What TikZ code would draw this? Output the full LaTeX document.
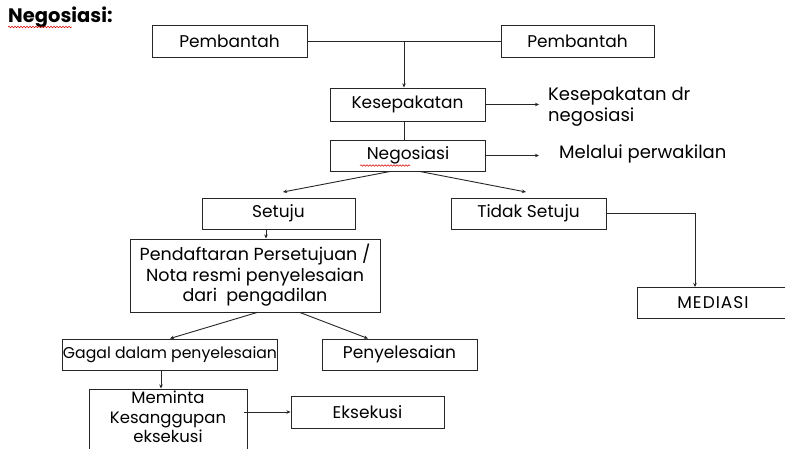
\documentclass[tikz,border=0pt]{standalone}
\usepackage{fontspec}
\setmainfont{Poppins}
\usetikzlibrary{arrows.meta,calc,decorations.pathmorphing}
\begin{document}
\begin{tikzpicture}[x=1pt,y=-1pt,
  box/.style={draw=black!85,line width=1pt,inner sep=0pt,align=center,font=\fontsize{17}{20.5}\selectfont},
  lbl/.style={inner sep=0pt,align=left,font=\fontsize{18}{20.5}\selectfont},
  arr/.style={-{Stealth[length=4pt,width=3.5pt]},line width=0.9pt,draw=black!85},
  ln/.style={line width=0.9pt,draw=black!85},
  wavy/.style={draw=red!85!black,line width=0.5pt,decorate,decoration={snake,amplitude=0.8pt,segment length=3pt}}
]
\useasboundingbox (0,0) rectangle (785,448);
\fill[white] (0,0) rectangle (785,448);

\node[anchor=west,inner sep=0pt,font=\bfseries\fontsize{19.5}{21}\selectfont] (title) at (8,17) {Negosiasi:};
\draw[wavy] (8,27) -- (72,27);

\node[box,minimum width=155pt,minimum height=32pt] (p1) at (229.5,41) {Pembantah};
\node[box,minimum width=153pt,minimum height=32pt] (p2) at (577.5,41) {Pembantah};
\node[box,minimum width=155pt,minimum height=33pt] (kes) at (407.5,104.5) {Kesepakatan};
\node[box,minimum width=155pt,minimum height=31pt] (neg) at (408,155.5) {Negosiasi};
\draw[wavy] (360,165.5) -- (410,165.5);
\node[box,minimum width=153pt,minimum height=31pt] (set) at (278.5,213.5) {Setuju};
\node[box,minimum width=155pt,minimum height=31pt] (tdk) at (528.5,213.5) {Tidak Setuju};
\node[box,minimum width=152pt,minimum height=31pt,font=\fontsize{17}{20.5}\selectfont\addfontfeature{LetterSpace=6}] (med) at (713,302.5) {MEDIASI};
\node[box,minimum width=250pt,minimum height=73pt,font=\fontsize{17.5}{20.5}\selectfont] (pend) at (255,275.5) {Pendaftaran Persetujuan /\\Nota resmi penyelesaian\\dari~~pengadilan};
\node[box,minimum width=214pt,minimum height=31pt,font=\fontsize{15.7}{18}\selectfont] (gagal) at (170,354.5) {Gagal dalam penyelesaian};
\node[box,minimum width=155pt,minimum height=31pt] (peny) at (399.5,354.5) {Penyelesaian};
\node[box,minimum width=158pt,minimum height=62pt] (mem) at (168,420) {};
\node[inner sep=0pt,align=center,font=\fontsize{16.5}{19.5}\selectfont] (memt) at (168,417) {Meminta\\Kesanggupan\\eksekusi};
\node[box,minimum width=153pt,minimum height=32pt] (eks) at (367.5,412) {Eksekusi};

\node[lbl,anchor=west] (kt) at (548,107) {Kesepakatan dr\\negosiasi};
\node[lbl,anchor=west] (mt) at (559,154) {Melalui perwakilan};

\coordinate (j) at ($(p1.east)!0.5!(p2.west)$);
\draw[ln] (p1.east) -- (p2.west);
\draw[arr] (j) -- (j |- kes.north);
\draw[ln] (j |- kes.south) -- (j |- neg.north);

\coordinate (kd) at (539,104.5);
\draw[arr] (kes.east) -- (kd);
\coordinate (nd) at (539,155.5);
\draw[arr] (neg.east) -- (nd);

\coordinate (ns) at (283,192);
\coordinate (nt) at (526,192);
\draw[arr] ([xshift=-18pt]neg.south) -- (ns);
\draw[arr] ([xshift=12pt]neg.south) -- (nt);

\coordinate (mtop) at (695,287);
\draw[arr] (tdk.east) -| (mtop);

\draw[arr] ([xshift=-12.5pt]set.south) -- ([xshift=-12.5pt]set.south |- pend.north);

\draw[arr] ([xshift=2pt]pend.south) -- (gagal.north);
\draw[arr] ([xshift=45pt]pend.south) -- ([xshift=-31.5pt]peny.north);

\draw[arr] ([xshift=-9pt]gagal.south) -- ([xshift=-9pt]gagal.south |- mem.north);
\draw[arr] ([xshift=-4pt]mem.east |- eks.west) -- (eks.west);
\end{tikzpicture}
\end{document}
